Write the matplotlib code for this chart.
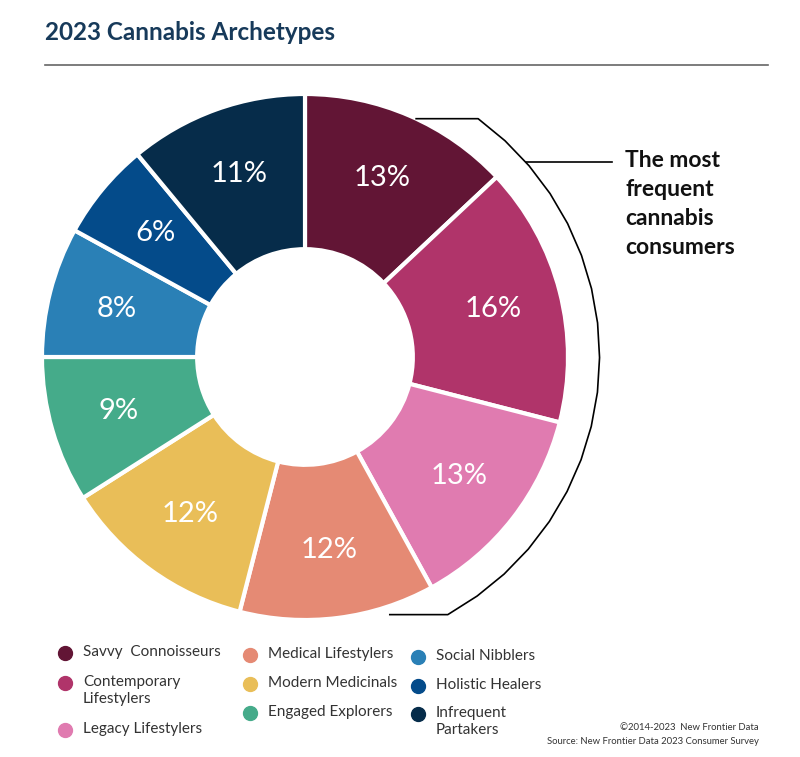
import numpy as np
import matplotlib.pyplot as plt

plt.rcParams['font.family'] = ['Lato', 'DejaVu Sans']

# ******** data ********
archetypes = ["Savvy  Connoisseurs", "Contemporary\nLifestylers", "Legacy Lifestylers",
              "Medical Lifestylers", "Modern Medicinals", "Engaged Explorers",
              "Social Nibblers", "Holistic Healers", "Infrequent\nPartakers"]
shares = [13, 16, 13, 12, 12, 9, 8, 6, 11]
colors = ["#621535", "#b0346a", "#e07bb0", "#e58a74", "#e9be58",
          "#45ab8a", "#2a80b6", "#044b8a", "#062c4a"]
callout = "The most\nfrequent\ncannabis\nconsumers"
W, H = 800, 757

fig = plt.figure(figsize=(W / 100, H / 100), dpi=100)

# pie centre and radius in pixels
cx, cy, r = 305, 357, 263
ax = fig.add_axes([(cx - r) / W, 1 - (cy + r) / H, 2 * r / W, 2 * r / H])
ax.axis('off')

wedges, texts, autotexts = ax.pie(
    shares, colors=colors, startangle=90, counterclock=False, radius=1,
    autopct='%d%%', pctdistance=0.74,
    wedgeprops=dict(width=0.59, edgecolor='white', linewidth=3),
    textprops=dict(color='white', fontsize=21))
ax.set_xlim(-1, 1)
ax.set_ylim(-1, 1)

# ******** bracket around first three slices ********
rb = 1.12
ang = np.linspace(np.radians(54), np.radians(-61), 18)
bx = rb * np.cos(ang)
by = rb * np.sin(ang)
bx = np.concatenate([[bx[0] - 62 / r], bx, [bx[-1] - 58 / r]])
by = np.concatenate([[by[0]], by, [by[-1]]])
ax.plot(bx, by, color='black', lw=1.2, clip_on=False)
ya = (cy - 162) / r
xa = np.sqrt(rb ** 2 - ya ** 2)
ax.plot([xa, (612 - cx) / r], [ya, ya], color='black', lw=1.2, clip_on=False)
fig.text(625 / W, 1 - 150 / H, callout, fontsize=16.5, fontweight='bold',
         color='#111111', va='top', ha='left', linespacing=1.48)

# ******** title ********
fig.text(45 / W, 1 - 33 / H, "2023 Cannabis Archetypes", fontsize=17.5,
         fontweight='bold', color='#173a5a', va='center', ha='left')
fig.add_artist(plt.Line2D([45 / W, 768 / W], [1 - 65 / H, 1 - 65 / H],
                          color='#666666', lw=1.2))

# ******** legend ********
dot_x = [65, 65, 65, 250, 250, 250, 418, 418, 418]
row_y = [653, 683, 730, 655, 684, 713, 657, 686, 714]
for name, c, x, y in zip(archetypes, colors, dot_x, row_y):
    fig.add_artist(plt.Line2D([x / W], [1 - y / H], marker='o', markersize=10,
                              color=c, linestyle='none'))
    fig.text((x + 18) / W, 1 - (y - 8) / H, name, fontsize=11, color='#333333',
             va='top', ha='left', linespacing=1.25)

fig.text(759 / W, 1 - 727 / H, "©2014-2023  New Frontier Data", fontsize=6.8,
         color='#333333', ha='right', va='center')
fig.text(759 / W, 1 - 741 / H, "Source: New Frontier Data 2023 Consumer Survey",
         fontsize=6.8, color='#333333', ha='right', va='center')

fig.savefig("out.png", dpi=100, facecolor='white')
